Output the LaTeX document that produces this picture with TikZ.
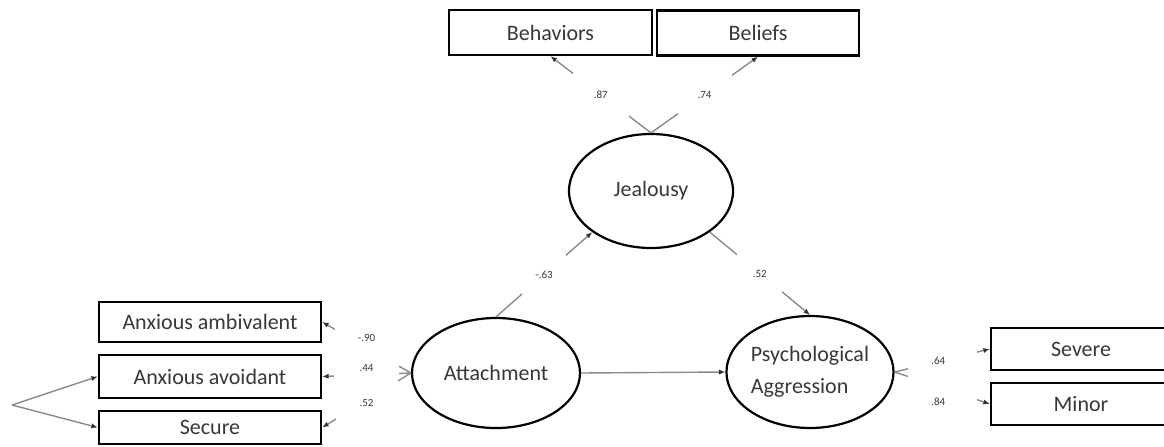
\documentclass[tikz,border=0pt]{standalone}
\usepackage{fontspec}
\setmainfont{Carlito}
\usetikzlibrary{shapes,arrows.meta}
\definecolor{txtgray}{HTML}{383838}
\definecolor{linegray}{HTML}{8A8A8A}
\tikzstyle{block} = [rectangle, draw=black, line width=1.2pt, fill=white, text=txtgray,
    font=\fontsize{11}{12}\selectfont, minimum width=111pt, minimum height=21pt, inner sep=0pt]
\tikzstyle{factor} = [ellipse, draw=black, line width=1.1pt, fill=white, text=txtgray,
    font=\fontsize{11}{16}\selectfont, inner sep=0pt]
\tikzstyle{line} = [draw=linegray, line width=0.7pt, -{Latex[length=3.2pt,width=2.6pt,color=black!80]}]
\tikzstyle{num} = [font=\fontsize{5.5}{6}\selectfont, text=txtgray, inner sep=0pt]
\tikzstyle{gap} = [fill=white, inner sep=0pt]

\begin{document}
\begin{tikzpicture}[x=0.5pt, y=-0.5pt]
	\useasboundingbox (0,0) rectangle (1164,446);

	% indicators
	\node [block, minimum width=101.5pt, minimum height=22.5pt] (beh) at (550.5,32.5) {Behaviors};
	\node [block, minimum width=101pt, minimum height=22.5pt] (bel) at (758,33) {Beliefs};
	\node [block, minimum height=20pt] (amb) at (210,322) {Anxious ambivalent};
	\node [block, minimum height=21.5pt] (avo) at (210,376.5) {Anxious avoidant};
	\node [block, minimum height=16.5pt] (sec) at (210,427.5) {Secure};
	\node [block, minimum width=90pt] (sev) at (1081,349) {Severe};
	\node [block, minimum width=90pt] (min) at (1081,404) {Minor};

	% latent variables
	\node [factor, minimum width=82pt, minimum height=57pt] (jeal) at (651,191) {Jealousy};
	\node [factor, minimum width=84pt, minimum height=55pt] (att) at (496,373) {Attachment};
	\node [factor, minimum width=82pt, minimum height=56pt, align=left] (psy) at (810,372) {Psychological\\Aggression};

	% loadings and paths
	\path [line] (jeal.north) -- node[gap, minimum width=28pt, minimum height=22pt] {} node[num] {.87} (beh.south);
	\path [line] (jeal.north) -- node[gap, minimum width=27pt, minimum height=21pt] {} node[num] {.74} (bel.south);
	\path [line] (att.north) -- node[gap, minimum width=22pt, minimum height=20.5pt] {} node[num] {-.63} (jeal.215);
	\path [line] (jeal.325) -- node[gap, minimum width=22.5pt, minimum height=21pt] {} node[num] {.52} (psy.north);
	\path [line] (att.east) -- (psy.west);

	\path [line] (att.west) -- node[gap, minimum width=32pt, minimum height=20pt] {} node[num, yshift=5pt] {-.90} (amb.east);
	\path [line] (att.west) -- node[gap, minimum width=32.5pt, minimum height=5pt] {} node[num, yshift=3.5pt] {.44} (avo.east);
	\path [line] (att.west) -- node[gap, minimum width=31pt, minimum height=20pt] {} node[num, yshift=-1.5pt] {.52} (sec.east);

	\path [line] (psy.east) -- node[gap, minimum width=34.5pt, minimum height=10pt] {} node[num, xshift=-2pt] {.64} (sev.west);
	\path [line] (psy.east) -- node[gap, minimum width=34.5pt, minimum height=13pt] {} node[num, xshift=-2pt, yshift=-7pt] {.84} (min.west);

	% correlated indicators
	\coordinate (cv) at (12,405);
	\path [line] (cv) -- (avo.west);
	\path [line] (cv) -- (sec.west);
\end{tikzpicture}
\end{document}
